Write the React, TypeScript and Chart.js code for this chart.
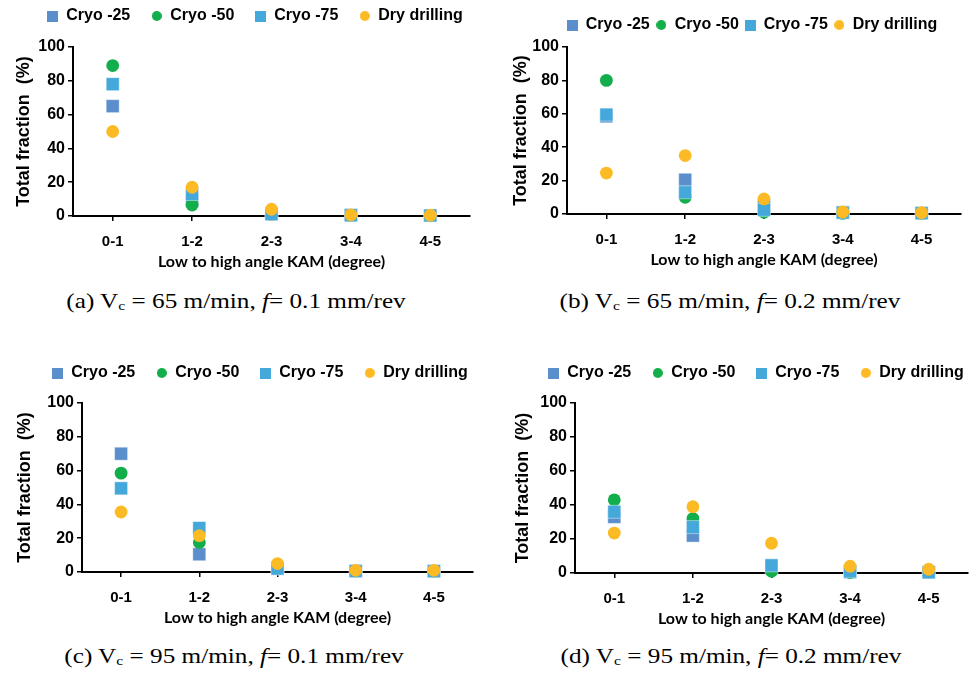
import React, { useEffect, useRef } from 'react';
import { Chart, registerables } from 'chart.js';

Chart.register(...registerables);

// ---------- data ----------
const categories = ['0-1', '1-2', '2-3', '3-4', '4-5'];
const seriesNames = ['Cryo -25', 'Cryo -50', 'Cryo -75', 'Dry drilling'];
const yTickValues = [0, 20, 40, 60, 80, 100];

const aCryo25 = [65, 9, 1, 0.4, 0.3];
const aCryo50 = [89, 6.5, 0.8, 0.2, 0.1];
const aCryo75 = [78, 13, 1.2, 0.5, 0.3];
const aDry = [50, 17, 4, 0.7, 0.5];

const bCryo25 = [58.5, 20.5, 5, 1, 0.5];
const bCryo50 = [80, 10, 1, 0.3, 0.2];
const bCryo75 = [59.5, 13, 2.5, 0.8, 0.5];
const bDry = [24.5, 35, 9, 1.2, 0.8];

const cCryo25 = [70, 10.5, 2.5, 0.5, 0.5];
const cCryo50 = [58.5, 17.5, 3, 0.5, 0.3];
const cCryo75 = [49.5, 26, 2, 0.6, 0.5];
const cDry = [35.5, 21.5, 5, 1, 1];

const dCryo25 = [33, 22, 3, 0.5, 0.3];
const dCryo50 = [43, 32, 1, 0.3, 0.2];
const dCryo75 = [36, 27, 4.5, 1, 0.5];
const dDry = [23.5, 39, 17.5, 4, 2.2];

const xTitle = 'Low to high angle KAM (degree)';
const yTitle = 'Total fraction  (%)';

// ---------- styles ----------
const ARIAL = "Arial, 'Liberation Sans', sans-serif";
const seriesStyle = [
  { color: '#5b8fcb', shape: 'rect' },
  { color: '#12ae4b', shape: 'circle' },
  { color: '#44a8db', shape: 'rect' },
  { color: '#fcbb24', shape: 'circle' },
];

type Geo = {
  x0: number; legendCX: number; legendCY: number; lp: number;
  chartL: number; chartR: number; chartT: number; chartB: number; yTitleCX: number;
};

type PanelDef = {
  values: number[][];
  geo: Geo;
  cap: { label: string; vc: string; f: string; cx: number; cy: number };
};

const panels: PanelDef[] = [
  {
    values: [aCryo25, aCryo50, aCryo75, aDry],
    geo: { x0: 0, legendCX: 255, legendCY: 16, lp: 21, chartL: 73, chartR: 470, chartT: 47, chartB: 216, yTitleCX: 24 },
    cap: { label: 'a', vc: '65', f: '0.1', cx: 236, cy: 301 },
  },
  {
    values: [bCryo25, bCryo50, bCryo75, bDry],
    geo: { x0: 488, legendCX: 752, legendCY: 25, lp: 6, chartL: 567, chartR: 961, chartT: 47, chartB: 214, yTitleCX: 521 },
    cap: { label: 'b', vc: '65', f: '0.2', cx: 730, cy: 301 },
  },
  {
    values: [cCryo25, cCryo50, cCryo75, cDry],
    geo: { x0: 0, legendCX: 260, legendCY: 373, lp: 21, chartL: 82, chartR: 473, chartT: 403, chartB: 572, yTitleCX: 25 },
    cap: { label: 'c', vc: '95', f: '0.1', cx: 234, cy: 656 },
  },
  {
    values: [dCryo25, dCryo50, dCryo75, dDry],
    geo: { x0: 488, legendCX: 756, legendCY: 373, lp: 21, chartL: 575, chartR: 968, chartT: 403, chartB: 573, yTitleCX: 523 },
    cap: { label: 'd', vc: '95', f: '0.2', cx: 731, cy: 656 },
  },
];

function markerCanvas(shape: string, color: string): HTMLCanvasElement {
  const size = shape === 'rect' ? 11 : 10;
  const c = document.createElement('canvas');
  c.width = size;
  c.height = size;
  const g = c.getContext('2d')!;
  g.fillStyle = color;
  if (shape === 'rect') {
    g.fillRect(0, 0, size, size);
  } else {
    g.beginPath();
    g.arc(size / 2, size / 2, size / 2, 0, Math.PI * 2);
    g.fill();
  }
  return c;
}

const X_AXIS_H = 55;

function layoutOf(geo: Geo) {
  const W = Math.round(2 * (geo.legendCX - geo.x0));
  const y0 = Math.round(geo.legendCY - geo.lp - 8);
  const legendH = 16 + geo.lp + 10;
  const spacer = Math.max(1, geo.chartT - (y0 + legendH));
  const H = Math.round(geo.chartB - y0 + X_AXIS_H);
  const yW = geo.chartL - geo.x0;
  const rW = geo.x0 + W - geo.chartR;
  const yTitlePad = geo.yTitleCX - geo.x0 - 10.8;
  return { W, H, y0, spacer, yW, rW, yTitlePad };
}

function Panel({ def }: { def: PanelDef }) {
  const ref = useRef<HTMLCanvasElement | null>(null);
  const L = layoutOf(def.geo);

  useEffect(() => {
    if (!ref.current) return;
    const markers = seriesStyle.map((s) => markerCanvas(s.shape, s.color));
    const chart = new Chart(ref.current, {
      type: 'line',
      data: {
        labels: categories,
        datasets: seriesNames.map((name, i) => {
          const st = seriesStyle[i];
          const isRect = st.shape === 'rect';
          return {
            label: name,
            data: def.values[i],
            showLine: false,
            pointStyle: st.shape as any,
            pointRadius: isRect ? 9.2 : 6.4,
            pointBackgroundColor: st.color,
            pointBorderColor: isRect ? 'rgba(255,255,255,0.55)' : st.color,
            pointBorderWidth: isRect ? 0.8 : 0,
            backgroundColor: st.color,
            borderColor: st.color,
            order: 4 - i,
            clip: false as any,
          };
        }),
      },
      options: {
        animation: false,
        responsive: false,
        events: [],
        layout: { padding: 0 },
        plugins: {
          tooltip: { enabled: false },
          title: {
            display: true,
            text: '',
            font: { size: 1, lineHeight: 1 },
            padding: { top: 0, bottom: L.spacer - 1 },
          },
          legend: {
            display: true,
            position: 'top',
            weight: 3000,
            labels: {
              usePointStyle: true,
              boxWidth: 11,
              boxHeight: 11,
              padding: def.geo.lp,
              color: '#000',
              font: { family: ARIAL, size: 16, weight: 'bold' },
              generateLabels: (ch: any) =>
                (Chart.defaults.plugins.legend.labels as any)
                  .generateLabels(ch)
                  .map((it: any) => ({ ...it, pointStyle: markers[it.datasetIndex] })),
              sort: (a: any, b: any) => a.datasetIndex - b.datasetIndex,
            },
          } as any,
        },
        scales: {
          x: {
            type: 'category',
            offset: true,
            grid: {
              display: true,
              drawOnChartArea: false,
              drawTicks: true,
              tickLength: 5,
              color: '#000',
              lineWidth: 1.5,
              offset: false,
            },
            border: { display: true, color: '#000', width: 2 },
            ticks: {
              font: { family: ARIAL, size: 15, weight: 'bold' },
              color: '#000',
              padding: 12,
              maxRotation: 0,
              autoSkip: false,
            },
            title: {
              display: true,
              text: xTitle,
              font: { family: "Lato, 'Open Sans', sans-serif", size: 16, weight: 'bold' },
              color: '#000',
              padding: 0,
            },
            afterFit: (s: any) => {
              s.height = X_AXIS_H;
            },
          },
          y: {
            type: 'linear',
            position: 'left',
            min: 0,
            max: 100,
            afterBuildTicks: (s: any) => {
              s.ticks = yTickValues.map((v) => ({ value: v }));
            },
            grid: {
              display: true,
              drawOnChartArea: false,
              drawTicks: true,
              tickLength: 5,
              color: '#000',
              lineWidth: 1.5,
            },
            border: { display: true, color: '#000', width: 2 },
            ticks: { font: { family: ARIAL, size: 16, weight: 'bold' }, color: '#000', padding: 3 },
            title: {
              display: true,
              text: yTitle,
              font: { family: ARIAL, size: 18, weight: 'bold' },
              color: '#000',
              padding: { top: L.yTitlePad, bottom: 0 },
            },
            afterFit: (s: any) => {
              s.width = L.yW;
            },
          },
          y2: {
            type: 'linear',
            position: 'right',
            display: true,
            grid: { display: false, drawTicks: false },
            border: { display: false },
            ticks: { display: false },
            afterFit: (s: any) => {
              s.width = L.rW;
            },
          },
        },
      } as any,
    });
    return () => chart.destroy();
  }, []);

  return (
    <canvas
      ref={ref}
      width={L.W}
      height={L.H}
      style={{ position: 'absolute', left: def.geo.x0, top: L.y0, width: L.W, height: L.H }}
    />
  );
}

function Caption({ cap }: { cap: PanelDef['cap'] }) {
  return (
    <div
      style={{
        position: 'absolute',
        left: cap.cx,
        top: cap.cy,
        transform: 'translate(-50%, -50%) scaleX(1.2)',
        whiteSpace: 'nowrap',
        fontFamily: "'Liberation Serif', 'Times New Roman', serif",
        fontSize: 21,
        lineHeight: 1,
        color: '#000',
      }}
    >
      ({cap.label}) V<sub style={{ fontSize: 13, lineHeight: 0, verticalAlign: '-0.2em' }}>c</sub> = {cap.vc} m/min, <i>f</i>= {cap.f} mm/rev
    </div>
  );
}

export default function App() {
  return (
    <div
      style={{
        position: 'absolute',
        left: 0,
        top: 0,
        width: 976,
        height: 682,
        overflow: 'hidden',
        background: '#fff',
      }}
    >
      {panels.map((p, i) => (
        <Panel key={'p' + i} def={p} />
      ))}
      {panels.map((p, i) => (
        <Caption key={'c' + i} cap={p.cap} />
      ))}
    </div>
  );
}
